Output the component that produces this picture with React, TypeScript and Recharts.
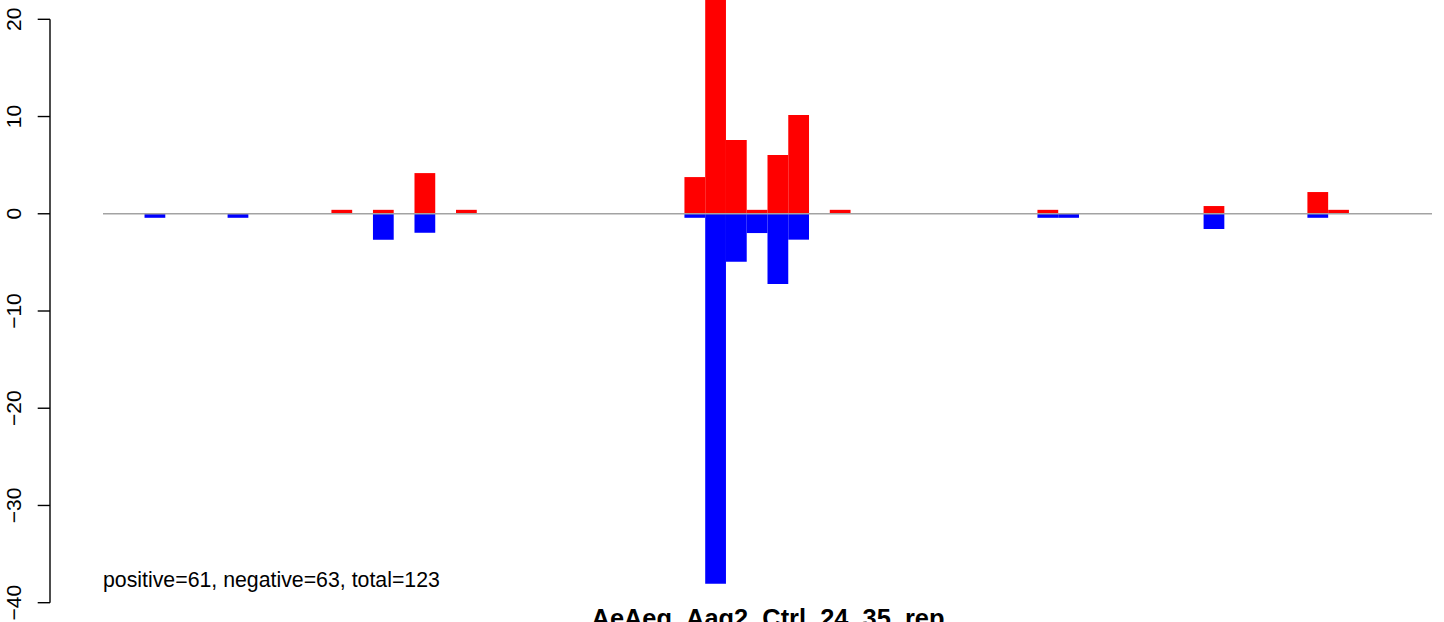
import React from "react";
import { BarChart, Bar, XAxis, YAxis, ReferenceLine, LineChart, Line } from "recharts";

const WIDTH = 1444;
const HEIGHT = 622;

// Bins along the read coordinate (1-based), with stranded signal per bin
const BIN_COUNT = 64;
const positiveBins = [12, 14, 16, 18, 29, 30, 31, 32, 33, 34, 36, 46, 54, 59, 60];
const positiveValues = [0.41, 0.41, 4.19, 0.41, 3.78, 29.5, 7.59, 0.41, 6.05, 10.16, 0.41, 0.41, 0.8, 2.24, 0.41];
const negativeBins = [3, 7, 14, 16, 29, 30, 31, 32, 33, 34, 46, 47, 54, 59];
const negativeValues = [-0.41, -0.41, -2.67, -1.95, -0.41, -38.07, -4.93, -1.98, -7.22, -2.66, -0.41, -0.41, -1.56, -0.41];

const yTicks = [-40, -30, -20, -10, 0, 10, 20];
const yDomain: [number, number] = [-42, 22];
const summaryText = "positive=61, negative=63, total=123";
const titleText = "AeAeg_Aag2_Ctrl_24_35_rep";

const FONT = "'Liberation Sans', Arial, Helvetica, sans-serif";

const binData = Array.from({ length: BIN_COUNT }, (_, i) => {
  const bin = i + 1;
  const p = positiveBins.indexOf(bin);
  const n = negativeBins.indexOf(bin);
  return {
    bin,
    pos: p >= 0 ? positiveValues[p] : 0,
    neg: n >= 0 ? negativeValues[n] : 0,
  };
});

const PLOT_LEFT = 103;
const PLOT_RIGHT = 12;
const BAR_SIZE = (WIDTH - PLOT_LEFT - PLOT_RIGHT) / BIN_COUNT - 0.005;

const formatTick = (v: number) => (v < 0 ? `\u2212${Math.abs(v)}` : String(v));

const RotatedTick = (props: any) => {
  const { x, y, payload } = props;
  return (
    <text
      x={x}
      y={y}
      transform={`rotate(-90, ${x}, ${y})`}
      textAnchor="middle"
      fontFamily={FONT}
      fontSize={21}
      fill="#000"
    >
      {formatTick(payload.value)}
    </text>
  );
};

export default function App() {
  return (
    <div style={{ position: "absolute", left: 0, top: 0, width: WIDTH, height: HEIGHT, background: "#fff" }}>
      <div style={{ position: "absolute", left: 0, top: 0 }}>
        <BarChart
          width={WIDTH}
          height={HEIGHT}
          data={binData}
          margin={{ top: 0, right: PLOT_RIGHT, bottom: 0, left: PLOT_LEFT }}
          barCategoryGap={0}
          barGap={0}
          stackOffset="sign"
        >
          <XAxis dataKey="bin" type="category" hide />
          <YAxis type="number" domain={yDomain} allowDataOverflow hide />
          <ReferenceLine y={0} stroke="#a3a3a3" strokeWidth={1.4} />
          <Bar dataKey="pos" stackId="s" fill="#ff0000" barSize={BAR_SIZE} isAnimationActive={false} />
          <Bar dataKey="neg" stackId="s" fill="#0000ff" barSize={BAR_SIZE} isAnimationActive={false} />
        </BarChart>
      </div>
      <div style={{ position: "absolute", left: 0, top: 0 }}>
        <LineChart
          width={100}
          height={HEIGHT}
          data={[{ k: 0, v: 0 }]}
          margin={{ top: 19.3, right: 0, bottom: 19.3, left: 0 }}
        >
          <XAxis dataKey="k" hide />
          <YAxis
            type="number"
            domain={[yTicks[0], yTicks[yTicks.length - 1]]}
            ticks={yTicks}
            interval={0}
            width={50}
            tickSize={12.3}
            tickMargin={17}
            axisLine={{ stroke: "#000", strokeWidth: 1.4 }}
            tickLine={{ stroke: "#000", strokeWidth: 1.4 }}
            tick={<RotatedTick />}
          />
          <Line dataKey="v" stroke="none" dot={false} isAnimationActive={false} />
        </LineChart>
      </div>
      <svg
        width={WIDTH}
        height={HEIGHT}
        style={{ position: "absolute", left: 0, top: 0, pointerEvents: "none" }}
      >
        <text x={103} y={587} fontFamily={FONT} fontSize={21.3} fill="#000">
          {summaryText}
        </text>
        <text x={768} y={626.5} fontFamily={FONT} fontSize={25.4} fontWeight="bold" textAnchor="middle" fill="#000">
          {titleText}
        </text>
      </svg>
    </div>
  );
}
